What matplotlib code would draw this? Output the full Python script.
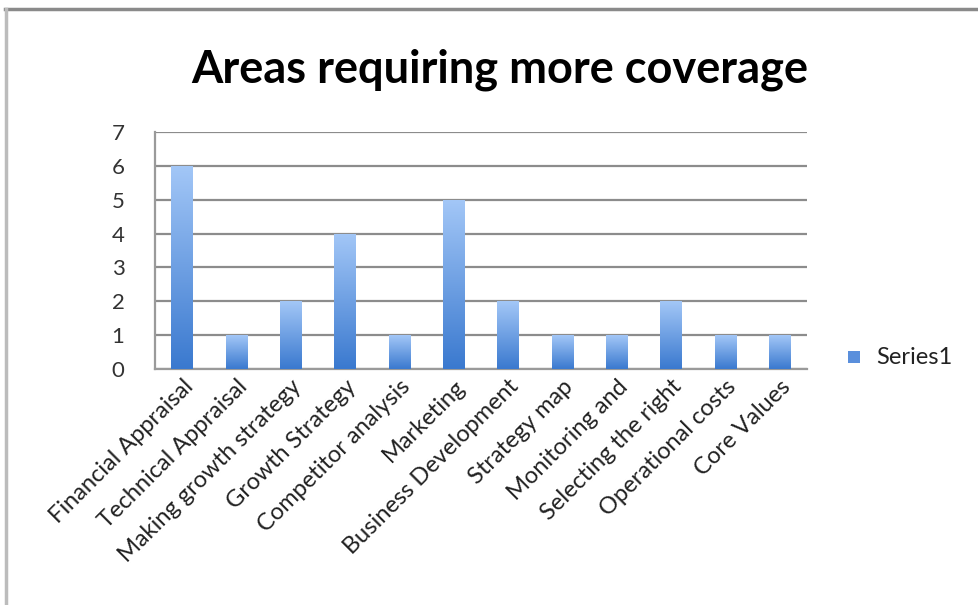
import numpy as np
import matplotlib
matplotlib.use("Agg")
import matplotlib.pyplot as plt
from matplotlib.colors import LinearSegmentedColormap
from matplotlib.lines import Line2D
from matplotlib.patches import Rectangle

categories = [
    "Financial Appraisal", "Technical Appraisal", "Making growth strategy",
    "Growth Strategy", "Competitor analysis", "Marketing",
    "Business Development", "Strategy map", "Monitoring and",
    "Selecting the right", "Operational costs", "Core Values",
]
values = [6, 1, 2, 4, 1, 5, 2, 1, 1, 2, 1, 1]
yticks = [0, 1, 2, 3, 4, 5, 6, 7]
series_name = "Series1"
title = "Areas requiring more coverage"

FONT = ["Lato", "DejaVu Sans"]
plt.rcParams["font.family"] = FONT

fig = plt.figure(figsize=(9.79, 6.05), dpi=100)
W, H = 979, 605
ax = fig.add_axes([155 / W, 1 - 369 / H, (807 - 155) / W, (369 - 132) / H])

x = np.arange(len(categories))
bars = ax.bar(x, values, width=0.4, color="none", edgecolor="none", zorder=3)

grad = LinearSegmentedColormap.from_list("bar", ["#3A79CF", "#A3C7F7"])
g = np.linspace(0, 1, 256).reshape(-1, 1)
for b in bars:
    x0, w, h = b.get_x(), b.get_width(), b.get_height()
    im = ax.imshow(g, cmap=grad, origin="lower", aspect="auto",
                   extent=[x0, x0 + w, 0, h], zorder=3, interpolation="bilinear")
    im.set_clip_path(b)

ax.set_xlim(-0.5, len(categories) - 0.5)
ax.set_ylim(0, 7)
ax.set_yticks(yticks)
ax.set_yticklabels([str(v) for v in yticks], fontsize=16, color="#333333")
ax.yaxis.grid(True, color="#8c8c8c", linewidth=1.6, zorder=0)
ax.set_axisbelow(True)
ax.tick_params(axis="y", length=0, pad=22)
ax.tick_params(axis="x", length=0, pad=5)
ax.set_xticks(x)
ax.set_xticklabels(categories, rotation=45, ha="right", rotation_mode="anchor",
                   fontsize=17, color="#222222")
for s in ["top", "right"]:
    ax.spines[s].set_visible(False)
for s in ["left", "bottom"]:
    ax.spines[s].set_color("#9a9a9a")
    ax.spines[s].set_linewidth(1.6)

fig.text(500 / W, 1 - 70 / H, title, ha="center", va="center",
         fontsize=32.5, fontweight="bold", color="black")

# legend
fig.patches.append(Rectangle((848 / W, 1 - 363 / H), 12 / W, 12 / H,
                             transform=fig.transFigure, facecolor="#5A8FDC",
                             edgecolor="none"))
fig.text(876 / W, 1 - 357 / H, series_name, ha="left", va="center",
         fontsize=17, color="#222222")

# chart frame (top and left edges)
fig.add_artist(Line2D([5 / W, 1], [1 - 9 / H, 1 - 9 / H], transform=fig.transFigure,
                      color="#8a8a8a", linewidth=2.5))
fig.add_artist(Line2D([6 / W, 6 / W], [0, 1 - 9 / H], transform=fig.transFigure,
                      color="#bcbcbc", linewidth=2.5))

fig.savefig("out.png", dpi=100)
